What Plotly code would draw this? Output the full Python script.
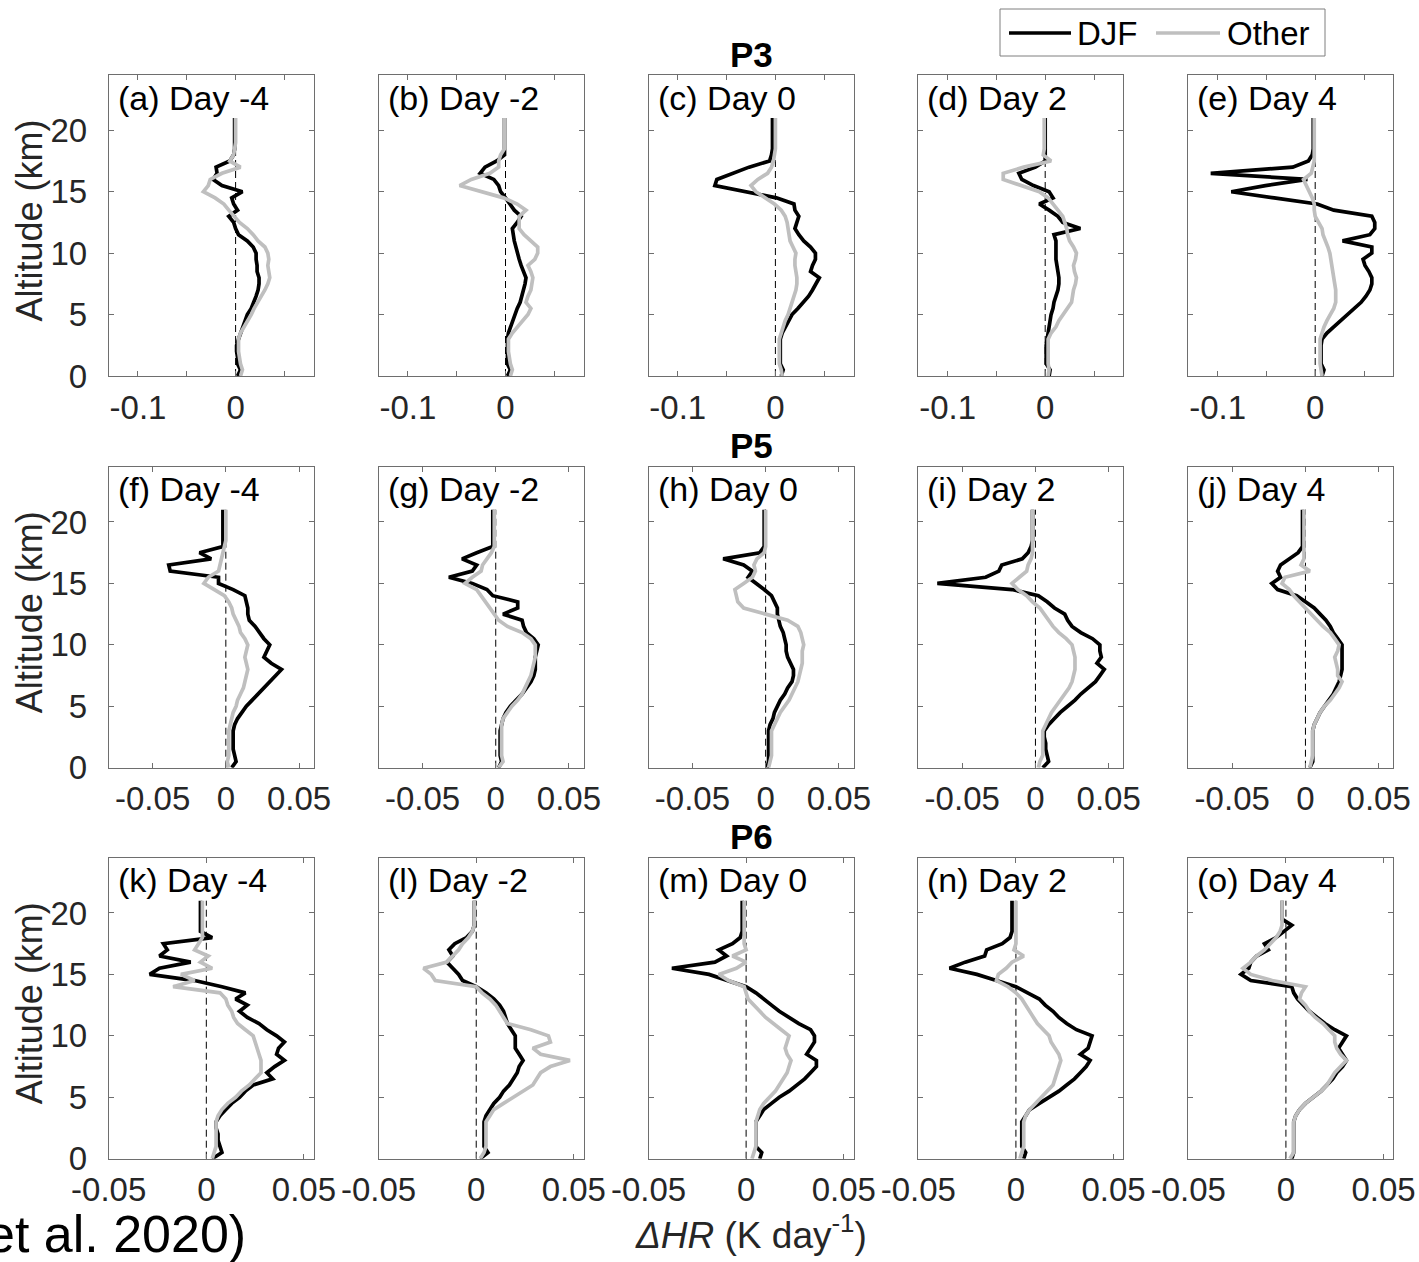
import plotly.graph_objects as go

# ---------------- data ----------------
alt_km = [0.0, 0.5, 1.0, 1.5, 2.0, 2.5, 3.0, 3.5, 4.0, 4.5, 5.0, 5.5, 6.0, 6.5,
          7.0, 7.5, 8.0, 8.5, 9.0, 9.5, 10.0, 10.5, 11.0, 11.5, 12.0, 12.5, 13.0,
          13.5, 14.0, 14.5, 15.0, 15.5, 16.0, 16.5, 17.0, 17.5, 18.0, 18.5, 19.0,
          19.5, 20.0, 20.5, 21.0]

row_names = ["P3", "P5", "P6"]
day_labels = ["Day -4", "Day -2", "Day 0", "Day 2", "Day 4"]
panel_letters = ["a", "b", "c", "d", "e", "f", "g", "h", "i", "j", "k", "l", "m", "n", "o"]
series_names = ["DJF", "Other"]

# P3
a_djf = [0.002,0.005,0.002,0.002,0.001,0.001,0.003,0.005, 0.007,0.009,0.012,0.016,0.019,0.021,0.023,0.024,
         0.024,0.022,0.022,0.021,0.021,0.018,0.012,0.003, 0.000,-0.002,-0.007,0.002,-0.002,-0.004,0.007,-0.014,
         -0.023,-0.019,-0.020,-0.006,-0.002, -0.001,-0.001,-0.001,-0.001,-0.001,-0.001]
a_oth = [0.005,0.007,0.005,0.004,0.003,0.003,0.003,0.005, 0.009,0.012,0.016,0.019,0.023,0.027,0.030,0.033,
         0.035,0.034,0.033,0.034,0.033,0.030,0.023,0.018, 0.012,0.004,-0.002,-0.007,-0.012,-0.021,-0.033,-0.028,
         -0.026,-0.014,0.005,-0.006,-0.002, -0.001,0.000,0.000,0.000,0.000,0.000]
b_djf = [0.002,0.005,0.002,0.002,0.002,0.002,0.002,0.003, 0.005,0.007,0.009,0.012,0.015,0.017,0.019,0.020,
         0.021,0.018,0.016,0.014,0.012,0.010,0.009,0.008, 0.007,0.012,0.016,0.009,0.005,0.000,-0.005,-0.007,
         -0.012,-0.026,-0.021,-0.009,-0.001, -0.001,-0.001,-0.001,-0.001,-0.001,-0.001]
b_oth = [0.005,0.007,0.005,0.004,0.003,0.003,0.003,0.007, 0.012,0.018,0.023,0.026,0.021,0.023,0.026,0.027,
         0.028,0.026,0.023,0.030,0.033,0.033,0.026,0.019, 0.014,0.014,0.014,0.021,0.012,-0.002,-0.026,-0.047,
         -0.035,-0.016,-0.007,-0.007,-0.005, -0.001,-0.001,-0.001,-0.001,-0.001,-0.001]
c_djf = [0.006,0.008,0.005,0.005,0.005,0.005,0.005,0.007, 0.010,0.013,0.017,0.023,0.029,0.034,0.038,0.042,
         0.045,0.036,0.038,0.041,0.041,0.036,0.029,0.024, 0.020,0.022,0.024,0.020,0.019,0.001,-0.029,-0.062,
         -0.060,-0.043,-0.027,-0.006,-0.004, -0.003,-0.003,-0.003,-0.003,-0.003,-0.003]
c_oth = [0.007,0.006,0.004,0.004,0.004,0.004,0.004,0.006, 0.008,0.010,0.013,0.015,0.017,0.019,0.021,0.022,
         0.022,0.021,0.020,0.020,0.021,0.018,0.015,0.014, 0.013,0.012,0.010,0.006,-0.001,-0.011,-0.020,-0.025,
         -0.018,-0.008,-0.004,-0.002,-0.001, 0.000,0.000,0.000,0.000,0.000,0.000]
d_djf = [0.004,0.005,0.001,0.001,0.001,0.001,0.002,0.003, 0.004,0.005,0.006,0.008,0.009,0.011,0.013,0.014,
         0.014,0.013,0.012,0.011,0.011,0.011,0.011,0.009, 0.036,0.018,0.013,0.004,-0.006,0.008,0.004,-0.012,
         -0.024,-0.027,-0.010,0.000,0.000, 0.000,0.000,0.000,0.000,0.000,0.000]
d_oth = [0.003,0.004,0.003,0.003,0.003,0.003,0.003,0.006, 0.011,0.014,0.018,0.022,0.027,0.028,0.029,0.031,
         0.032,0.030,0.029,0.031,0.032,0.029,0.025,0.023, 0.022,0.020,0.018,0.013,0.008,0.003,-0.006,-0.025,
         -0.043,-0.043,-0.022,0.006,-0.002, -0.001,-0.001,-0.001,-0.001,-0.001,-0.001]
e_djf = [0.007,0.009,0.006,0.006,0.006,0.006,0.007,0.012, 0.019,0.026,0.033,0.040,0.047,0.052,0.056,0.058,
         0.058,0.055,0.051,0.049,0.058,0.058,0.028,0.056, 0.061,0.061,0.058,0.019,0.002,-0.042,-0.086,-0.051,
         -0.008,-0.107,-0.023,-0.007,-0.003, -0.002,-0.002,-0.002,-0.002,-0.002,-0.002]
e_oth = [0.007,0.006,0.005,0.005,0.005,0.005,0.005,0.007, 0.009,0.012,0.016,0.019,0.021,0.021,0.021,0.020,
         0.019,0.018,0.017,0.016,0.015,0.013,0.010,0.008, 0.007,0.004,0.000,-0.001,-0.001,-0.003,-0.006,-0.008,
         -0.012,-0.004,-0.002,-0.001,-0.001, -0.001,-0.001,-0.001,-0.001,-0.001,-0.001]
# P5
f_djf = [0.004,0.007,0.006,0.005,0.005,0.005,0.005,0.006, 0.008,0.011,0.014,0.018,0.022,0.026,0.030,0.034,
         0.038,0.031,0.026,0.028,0.030,0.026,0.023,0.020, 0.016,0.015,0.015,0.014,0.013,0.005,-0.005,-0.005,
         -0.038,-0.039,-0.010,-0.018,-0.002, -0.002,-0.002,-0.002,-0.002,-0.002,-0.002]
f_oth = [0.002,0.001,0.002,0.002,0.002,0.002,0.002,0.003, 0.004,0.005,0.007,0.008,0.010,0.012,0.013,0.014,
         0.015,0.014,0.013,0.014,0.015,0.013,0.010,0.009, 0.007,0.005,0.004,0.002,-0.001,-0.008,-0.015,-0.012,
         -0.005,-0.004,-0.003,-0.002,-0.001, 0.000,0.000,0.000,0.000,0.000,0.000]
g_djf = [0.002,0.004,0.003,0.003,0.003,0.003,0.003,0.004, 0.005,0.007,0.010,0.014,0.018,0.021,0.024,0.026,
         0.027,0.027,0.027,0.028,0.029,0.026,0.021,0.019, 0.018,0.005,0.015,0.015,-0.002,-0.006,-0.016,-0.032,
         -0.016,-0.013,-0.023,-0.013,-0.002, -0.002,-0.002,-0.002,-0.002,-0.002,-0.002]
g_oth = [0.002,0.005,0.004,0.004,0.004,0.004,0.004,0.004, 0.005,0.008,0.011,0.015,0.018,0.020,0.022,0.024,
         0.025,0.026,0.027,0.027,0.027,0.024,0.018,0.008, 0.002,-0.001,-0.004,-0.007,-0.010,-0.013,-0.021,-0.016,
         -0.010,-0.009,-0.006,-0.003,-0.001, -0.001,-0.001,-0.001,-0.001,-0.001,-0.001]
h_djf = [0.001,0.002,0.002,0.002,0.002,0.002,0.002,0.003, 0.005,0.006,0.008,0.010,0.013,0.015,0.018,0.019,
         0.019,0.017,0.015,0.014,0.014,0.013,0.012,0.010, 0.009,0.008,0.008,0.006,0.004,-0.001,-0.007,-0.012,
         -0.009,-0.015,-0.029,-0.004,-0.001, -0.001,-0.001,-0.001,-0.001,-0.001,-0.001]
h_oth = [0.002,0.003,0.004,0.004,0.004,0.004,0.004,0.006, 0.008,0.010,0.013,0.016,0.018,0.020,0.022,0.023,
         0.024,0.025,0.025,0.025,0.026,0.025,0.024,0.022, 0.015,0.000,-0.015,-0.019,-0.020,-0.021,-0.015,-0.009,
         -0.007,-0.008,-0.006,-0.001,0.000, 0.000,0.000,0.000,0.000,0.000,0.000]
i_djf = [0.005,0.009,0.008,0.007,0.007,0.006,0.006,0.009, 0.013,0.017,0.022,0.027,0.031,0.036,0.041,0.044,
         0.047,0.042,0.045,0.044,0.044,0.039,0.031,0.025, 0.022,0.020,0.013,0.008,0.002,-0.016,-0.067,-0.034,
         -0.025,-0.023,-0.009,-0.005,-0.003, -0.002,-0.002,-0.002,-0.002,-0.002,-0.002]
i_oth = [0.002,0.003,0.005,0.005,0.005,0.005,0.005,0.007, 0.009,0.011,0.014,0.017,0.020,0.023,0.025,0.026,
         0.027,0.027,0.027,0.026,0.025,0.021,0.016,0.012, 0.009,0.006,0.003,-0.002,-0.006,-0.012,-0.016,-0.011,
         -0.006,-0.005,-0.003,-0.002,-0.002, -0.002,-0.002,-0.002,-0.002,-0.002,-0.002]
j_djf = [0.003,0.005,0.005,0.005,0.005,0.005,0.005,0.006, 0.008,0.010,0.013,0.016,0.019,0.021,0.023,0.024,
         0.025,0.025,0.025,0.025,0.025,0.022,0.019,0.017, 0.014,0.010,0.006,0.000,-0.006,-0.019,-0.023,-0.017,
         -0.019,-0.017,-0.011,-0.005,-0.002, -0.002,-0.002,-0.002,-0.002,-0.002,-0.002]
j_oth = [0.003,0.004,0.005,0.005,0.005,0.005,0.005,0.006, 0.008,0.010,0.013,0.017,0.020,0.023,0.025,0.022,
         0.022,0.021,0.020,0.022,0.023,0.020,0.017,0.012, 0.008,0.004,0.000,-0.004,-0.008,-0.011,-0.016,-0.014,
         0.003,-0.003,-0.001,-0.001,-0.001, -0.001,-0.001,-0.001,-0.001,-0.001,-0.001]
# P6
k_djf = [0.003,0.008,0.007,0.006,0.006,0.005,0.005,0.007, 0.010,0.013,0.017,0.020,0.024,0.034,0.031,0.035,
         0.040,0.036,0.037,0.040,0.036,0.031,0.027,0.021, 0.017,0.021,0.015,0.020,0.008,-0.006,-0.029,-0.024,
         -0.008,-0.024,-0.020,-0.022,0.003, -0.003,-0.003,-0.003,-0.003,-0.003,-0.003]
k_oth = [0.003,0.004,0.005,0.005,0.005,0.005,0.005,0.006, 0.008,0.011,0.015,0.018,0.022,0.025,0.028,0.028,
         0.028,0.027,0.026,0.025,0.024,0.020,0.016,0.014, 0.013,0.011,0.010,0.007,-0.017,-0.006,-0.013,0.003,
         -0.003,0.001,-0.006,-0.004,-0.002, -0.002,-0.002,-0.002,-0.002,-0.002,-0.002]
l_djf = [0.002,0.006,0.004,0.004,0.004,0.004,0.004,0.005, 0.007,0.009,0.012,0.014,0.017,0.019,0.021,0.022,
         0.024,0.022,0.020,0.020,0.020,0.018,0.016,0.015, 0.014,0.012,0.009,0.005,0.000,-0.007,-0.009,-0.012,
         -0.015,-0.012,-0.014,-0.011,-0.005, -0.002,-0.001,-0.001,-0.001,-0.001,-0.001]
l_oth = [0.002,0.004,0.005,0.005,0.005,0.005,0.005,0.007, 0.009,0.014,0.019,0.024,0.029,0.031,0.033,0.038,
         0.048,0.033,0.029,0.038,0.037,0.028,0.016,0.014, 0.012,0.010,0.007,0.003,0.000,-0.021,-0.023,-0.027,
         -0.015,-0.012,-0.009,-0.007,-0.004, -0.002,-0.001,-0.001,-0.001,-0.001,-0.001]
m_djf = [0.007,0.008,0.005,0.005,0.005,0.005,0.005,0.007, 0.009,0.013,0.017,0.022,0.026,0.030,0.033,0.036,
         0.036,0.031,0.033,0.035,0.035,0.033,0.027,0.022, 0.017,0.013,0.009,0.005,0.000,-0.009,-0.019,-0.038,
         -0.016,-0.010,-0.014,-0.007,-0.003, -0.002,-0.002,-0.002,-0.002,-0.002,-0.002]
m_oth = [0.003,0.004,0.005,0.005,0.005,0.005,0.005,0.006, 0.007,0.009,0.012,0.015,0.017,0.019,0.021,0.022,
         0.023,0.021,0.020,0.021,0.022,0.018,0.014,0.010, 0.007,0.004,0.001,0.000,-0.001,-0.009,-0.014,-0.005,
         0.000,-0.007,0.000,-0.001,-0.001, -0.001,-0.001,-0.001,-0.001,-0.001,-0.001]
n_djf = [0.004,0.005,0.003,0.003,0.003,0.003,0.003,0.005, 0.007,0.012,0.017,0.022,0.026,0.030,0.033,0.036,
         0.038,0.033,0.037,0.038,0.039,0.031,0.026,0.022, 0.019,0.015,0.012,0.006,0.000,-0.010,-0.020,-0.034,
         -0.026,-0.016,-0.015,-0.007,-0.003, -0.002,-0.002,-0.002,-0.002,-0.002,-0.002]
n_oth = [0.002,0.003,0.004,0.004,0.004,0.004,0.004,0.005, 0.007,0.010,0.013,0.016,0.019,0.020,0.021,0.022,
         0.023,0.022,0.020,0.018,0.017,0.014,0.011,0.009, 0.007,0.005,0.003,0.000,-0.004,-0.010,-0.009,-0.005,
         -0.002,0.004,-0.001,0.000,0.000, 0.000,0.000,0.000,0.000,0.000,0.000]
o_djf = [0.003,0.004,0.004,0.004,0.004,0.004,0.004,0.005, 0.007,0.010,0.014,0.018,0.021,0.024,0.026,0.029,
         0.031,0.029,0.027,0.029,0.031,0.025,0.020,0.016, 0.012,0.009,0.006,0.004,0.003,-0.018,-0.023,-0.019,
         -0.018,-0.015,-0.009,-0.011,-0.005, -0.001,0.003,-0.002,-0.002,-0.002,-0.002]
o_oth = [0.002,0.004,0.004,0.004,0.004,0.004,0.004,0.005, 0.007,0.010,0.014,0.018,0.021,0.023,0.025,0.028,
         0.031,0.028,0.026,0.025,0.025,0.022,0.019,0.015, 0.012,0.010,0.007,0.008,0.010,-0.007,-0.018,-0.022,
         -0.018,-0.015,-0.011,-0.008,-0.005, -0.003,-0.002,-0.002,-0.002,-0.002,-0.002]

djf_series = [a_djf, b_djf, c_djf, d_djf, e_djf, f_djf, g_djf, h_djf, i_djf, j_djf,
              k_djf, l_djf, m_djf, n_djf, o_djf]
oth_series = [a_oth, b_oth, c_oth, d_oth, e_oth, f_oth, g_oth, h_oth, i_oth, j_oth,
              k_oth, l_oth, m_oth, n_oth, o_oth]
for s in djf_series + oth_series:
    assert len(s) == len(alt_km), len(s)

# axis settings per row
row_xrange = [[-0.13, 0.08], [-0.08, 0.06], [-0.05, 0.055]]
row_tickvals = [[-0.1, 0], [-0.05, 0, 0.05], [-0.05, 0, 0.05]]
row_ticktext = [["-0.1", "0"], ["-0.05", "0", "0.05"], ["-0.05", "0", "0.05"]]
x_minor_step = 0.05
y_tickvals = [0, 5, 10, 15, 20]
y_range = [0, 24.5]

# ---------------- layout geometry (pixels) ----------------
W, H = 1419, 1262
col_left = [108.7, 378.6, 648.5, 918.3, 1188.3]
panel_w = 205.0
row_top = [75.0, 466.7, 857.7]
panel_h = 301.0

FONT = "Liberation Sans, Arial, Helvetica, sans-serif"
AX_COL = "#6e6e6e"
TXT_COL = "#262626"
GRAY = "#bfbfbf"
LW = 3.7


def px_x(v):
    return v / W


def px_y(v):
    return 1 - v / H


fig = go.Figure()
layout = {}
annotations = []
shapes = []

for r in range(3):
    for c in range(5):
        k = r * 5 + c
        n = k + 1
        xa = "x" if n == 1 else f"x{n}"
        ya = "y" if n == 1 else f"y{n}"
        # zero reference line
        fig.add_trace(go.Scatter(x=[0, 0], y=[alt_km[0], alt_km[-1]], mode="lines",
                                 line=dict(color="black", width=1, dash="7px,4px"),
                                 xaxis=xa, yaxis=ya, showlegend=False, hoverinfo="skip"))
        fig.add_trace(go.Scatter(x=djf_series[k], y=alt_km, mode="lines", name=series_names[0],
                                 line=dict(color="black", width=LW),
                                 xaxis=xa, yaxis=ya, showlegend=False))
        fig.add_trace(go.Scatter(x=oth_series[k], y=alt_km, mode="lines", name=series_names[1],
                                 line=dict(color=GRAY, width=LW),
                                 xaxis=xa, yaxis=ya, showlegend=False))

        common = dict(showline=True, linecolor=AX_COL, linewidth=1, mirror="ticks",
                      ticks="inside", ticklen=5, tickcolor=AX_COL, tickwidth=1,
                      showgrid=False, zeroline=False,
                      tickfont=dict(family=FONT, size=33, color=TXT_COL))
        layout["xaxis" if n == 1 else f"xaxis{n}"] = dict(
            domain=[px_x(col_left[c]), px_x(col_left[c] + panel_w)], anchor=ya,
            range=row_xrange[r],
            tickmode="array", tickvals=row_tickvals[r], ticktext=row_ticktext[r],
            minor=dict(tick0=0, dtick=x_minor_step, ticks="inside", ticklen=5,
                       tickcolor=AX_COL, tickwidth=1, showgrid=False),
            ticklabelstandoff=2, **common)
        layout["yaxis" if n == 1 else f"yaxis{n}"] = dict(
            domain=[px_y(row_top[r] + panel_h), px_y(row_top[r])], anchor=xa,
            range=y_range,
            tickmode="array", tickvals=y_tickvals, ticktext=[str(v) for v in y_tickvals],
            showticklabels=(c == 0), ticklabelstandoff=14, **common)

        annotations.append(dict(
            text=f"({panel_letters[k]}) {day_labels[c]}",
            xref=f"{xa} domain", yref=f"{ya} domain", x=0.035, y=0.995,
            xanchor="left", yanchor="top", showarrow=False,
            font=dict(family=FONT, size=34, color="black")))

    # row title
    annotations.append(dict(
        text=f"<b>{row_names[r]}</b>", xref="paper", yref="paper",
        x=px_x(col_left[2] + panel_w / 2), y=px_y(row_top[r] - 21),
        xanchor="center", yanchor="middle", showarrow=False,
        font=dict(family=FONT, size=35, color="black")))
    # y label
    annotations.append(dict(
        text="Altitude (km)", xref="paper", yref="paper",
        x=px_x(29), y=px_y(row_top[r] + panel_h / 2 - 5), textangle=-90,
        xanchor="center", yanchor="middle", showarrow=False,
        font=dict(family=FONT, size=36, color=TXT_COL)))

# x label
annotations.append(dict(
    text="<i>ΔHR</i> (K day<sup>-1</sup>)", xref="paper", yref="paper",
    x=px_x(751), y=px_y(1232), xanchor="center", yanchor="middle", showarrow=False,
    font=dict(family=FONT, size=37, color=TXT_COL)))
# fragment of caption text at the lower left (cut by the page edge)
annotations.append(dict(
    text="et al. 2020)", xref="paper", yref="paper",
    x=px_x(248), y=px_y(1234), xanchor="right", yanchor="middle", showarrow=False,
    font=dict(family=FONT, size=52, color="black")))

# legend box (top right): frame, line samples and labels
leg_y = 33
shapes.append(dict(type="rect", xref="paper", yref="paper",
                   x0=px_x(1000), x1=px_x(1325), y0=px_y(56), y1=px_y(9),
                   line=dict(color="#7f7f7f", width=1), fillcolor="white", layer="above"))
shapes.append(dict(type="line", xref="paper", yref="paper",
                   x0=px_x(1009), x1=px_x(1071), y0=px_y(leg_y), y1=px_y(leg_y),
                   line=dict(color="black", width=LW), layer="above"))
shapes.append(dict(type="line", xref="paper", yref="paper",
                   x0=px_x(1156), x1=px_x(1220), y0=px_y(leg_y), y1=px_y(leg_y),
                   line=dict(color=GRAY, width=LW), layer="above"))
annotations.append(dict(text=series_names[0], xref="paper", yref="paper",
                        x=px_x(1075), y=px_y(leg_y), xanchor="left", yanchor="middle",
                        showarrow=False, font=dict(family=FONT, size=33, color="black")))
annotations.append(dict(text=series_names[1], xref="paper", yref="paper",
                        x=px_x(1225), y=px_y(leg_y), xanchor="left", yanchor="middle",
                        showarrow=False, font=dict(family=FONT, size=33, color="black")))

fig.update_layout(
    width=W, height=H, autosize=False,
    margin=dict(l=0, r=0, t=0, b=0, autoexpand=False),
    paper_bgcolor="white", plot_bgcolor="white",
    font=dict(family=FONT, color=TXT_COL),
    showlegend=False,
    annotations=annotations,
    shapes=shapes,
    **layout,
)

# place the figure at the page origin (remove the browser's default body margin)
fig.write_html("out.html",
               config={"displayModeBar": False},
               post_script="document.body.style.margin='0px';document.body.style.overflow='hidden';")
